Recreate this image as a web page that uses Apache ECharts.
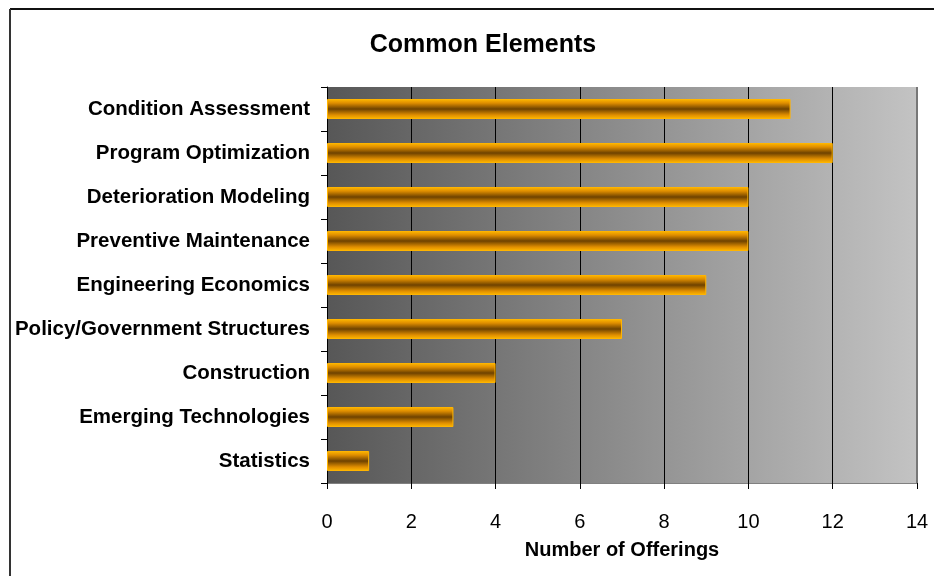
<!DOCTYPE html>
<html>
<head>
<meta charset="utf-8">
<script src="https://cdn.jsdelivr.net/npm/echarts@6/dist/echarts.min.js"></script>
<style>html,body{margin:0;padding:0;background:#fff;}#c{width:934px;height:576px;}</style>
</head>
<body>
<div id="c"></div>
<script>
const categories = ["Condition Assessment","Program Optimization","Deterioration Modeling","Preventive Maintenance","Engineering Economics","Policy/Government Structures","Construction","Emerging Technologies","Statistics"];
const offerings = [11,12,10,10,9,7,4,3,1];
const xTicks = [0,2,4,6,8,10,12,14];

const chart = echarts.init(document.getElementById('c'), null, {renderer:'canvas'});
const barGrad = new echarts.graphic.LinearGradient(0,0,0,1,[
  {offset:0,color:'#ffba00'},
  {offset:0.2,color:'#e08e00'},
  {offset:0.5,color:'#6e4200'},
  {offset:0.8,color:'#e08e00'},
  {offset:1,color:'#ffba00'}
]);
chart.setOption({
  animation:false,
  backgroundColor:'#ffffff',
  title:{text:'Common Elements',left:478,top:28,textAlign:'center',
    textStyle:{fontFamily:'Arial, Liberation Sans',fontSize:25,fontWeight:'bold',color:'#000'}},
  grid:{left:327,right:17,top:87,bottom:93,show:true,borderWidth:0,
    backgroundColor:new echarts.graphic.LinearGradient(0,0,1,0,[
      {offset:0,color:'#575757'},{offset:1,color:'#c3c3c3'}])},
  xAxis:{type:'value',min:0,max:14,interval:2,
    name:'Number of Offerings',nameLocation:'middle',nameGap:57,
    nameTextStyle:{fontFamily:'Arial, Liberation Sans',fontSize:20,fontWeight:'bold',color:'#000'},
    axisLine:{show:true,lineStyle:{color:'#808080',width:1}},
    axisTick:{show:true,length:6,lineStyle:{color:'#000'}},
    axisLabel:{margin:29,fontFamily:'Arial, Liberation Sans',fontSize:20,color:'#000',
      formatter:v=>xTicks.includes(v)?String(v):''},
    splitLine:{show:true,lineStyle:{color:'#000',width:1}}},
  yAxis:{type:'category',data:categories,inverse:true,
    axisLine:{show:true,lineStyle:{color:'#000',width:1}},
    axisTick:{show:true,length:6,lineStyle:{color:'#000'}},
    axisLabel:{margin:17,fontFamily:'Arial, Liberation Sans',fontSize:20.5,fontWeight:'bold',color:'#000'},
    splitLine:{show:false}},
  graphic:[
    {type:'line',shape:{x1:10,y1:9,x2:934,y2:9},style:{stroke:'#111',lineWidth:2},z:100},
    {type:'line',shape:{x1:10,y1:9,x2:10,y2:576},style:{stroke:'#333',lineWidth:2},z:100},
    {type:'line',shape:{x1:917,y1:87,x2:917,y2:483},style:{stroke:'#777',lineWidth:2},z:100}
  ],
  series:[{type:'bar',data:offerings,barWidth:20,
    itemStyle:{color:barGrad,borderColor:'#ffb400',borderWidth:1}}]
});
</script>
</body>
</html>
